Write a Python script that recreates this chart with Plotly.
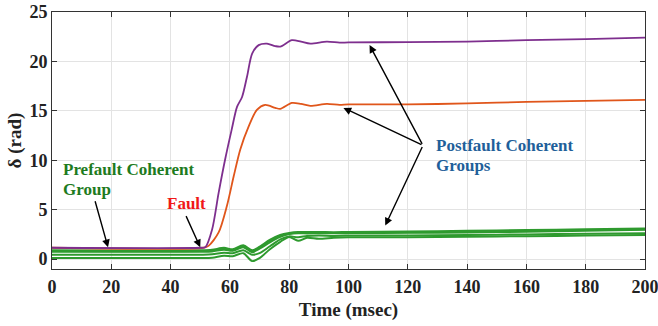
import plotly.graph_objects as go

# ---- data ----
t_purple = [0, 50, 51.7, 54, 56.2, 58.4, 60.6, 62.4, 64.1, 65.8, 67.5, 69.7, 72.5, 75.3, 77,
            80.9, 84, 87.1, 92.7, 97, 100, 120, 140, 160, 180, 200]
v_purple = [1.15, 1.15, 1.2, 3.0, 6.7, 10.1, 13.1, 15.4, 16.4, 18.5, 20.8, 21.65, 21.8, 21.55, 21.5,
            22.15, 22.0, 21.8, 22.0, 21.9, 21.92, 21.95, 22.0, 22.15, 22.25, 22.4]

t_orange = [0, 51, 52.8, 56.2, 59, 61.3, 63.5, 66.3, 69.1, 71.9, 75.3, 77, 80.9, 84, 87.1,
            92.7, 97, 100, 120, 140, 160, 180, 200]
v_orange = [1.15, 1.15, 1.34, 2.7, 5.4, 8.4, 11.1, 13.4, 15.1, 15.6, 15.3, 15.2, 15.8, 15.7, 15.5,
            15.7, 15.6, 15.65, 15.65, 15.75, 15.9, 16.0, 16.1]

t_green = [0, 50, 54, 58, 61, 64.5, 67.5, 70, 73.5, 77, 80, 83, 86, 90, 95, 100, 120, 140, 160, 180, 200]
v_green1 = [0.85, 0.85, 0.9, 1.1, 0.95, 1.35, 0.85, 1.2, 1.9, 2.4, 2.6, 2.7, 2.7, 2.7, 2.68, 2.7,
            2.75, 2.82, 2.9, 2.98, 3.05]
v_green2 = [0.75, 0.75, 0.78, 0.95, 0.85, 1.2, 0.7, 1.05, 1.7, 2.25, 2.55, 2.62, 2.6, 2.62, 2.62, 2.63,
            2.66, 2.7, 2.78, 2.88, 2.98]
v_green3 = [0.45, 0.45, 0.48, 0.65, 0.6, 0.9, 0.45, 0.6, 1.3, 2.0, 2.3, 2.2, 2.35, 2.4, 2.35, 2.38,
            2.4, 2.45, 2.5, 2.56, 2.62]
v_green4 = [0.12, 0.12, 0.15, 0.35, 0.3, 0.6, -0.2, 0.1, 1.0, 1.75, 2.25, 1.85, 2.15, 2.05, 2.15, 2.2,
            2.22, 2.27, 2.32, 2.38, 2.45]

x_ticks = [0, 20, 40, 60, 80, 100, 120, 140, 160, 180, 200]
y_ticks = [0, 5, 10, 15, 20, 25]

PURPLE = "#7E2F8E"
ORANGE = "#E0561B"
GREEN = "#2E9A2E"
FONT = "Liberation Serif"

fig = go.Figure()
for vals, w in [(v_green4, 2.0), (v_green3, 2.0), (v_green2, 2.0), (v_green1, 2.8)]:
    fig.add_trace(go.Scatter(x=t_green, y=vals, mode="lines",
                             line=dict(color=GREEN, width=w, shape="spline", smoothing=0.8)))
fig.add_trace(go.Scatter(x=t_orange, y=v_orange, mode="lines",
                         line=dict(color=ORANGE, width=1.8, shape="spline", smoothing=0.8)))
fig.add_trace(go.Scatter(x=t_purple, y=v_purple, mode="lines",
                         line=dict(color=PURPLE, width=1.8, shape="spline", smoothing=0.8)))

arrows = [
    # (head x, head y, tail x, tail y)
    (18.9, 1.2, 14.4, 6.0),
    (50.0, 1.2, 45.0, 4.5),
    (107.1, 21.65, 125.1, 11.5),
    (98.3, 15.3, 125.1, 11.5),
    (112.4, 3.4, 125.1, 11.5),
]
for hx, hy, tx, ty in arrows:
    fig.add_annotation(x=hx, y=hy, ax=tx, ay=ty, xref="x", yref="y", axref="x", ayref="y",
                       text="", showarrow=True, arrowhead=2, arrowsize=1.1, arrowwidth=1.4,
                       arrowcolor="black")

labels = [
    ("Prefault Coherent", 3.1, 9.06, "#1E7B1E", "left"),
    ("Group", 3.1, 7.05, "#1E7B1E", "left"),
    ("Fault", 45.3, 5.64, "#F01818", "center"),
    ("Postfault Coherent", 129.0, 11.45, "#1F5F9A", "left"),
    ("Groups", 129.0, 9.5, "#1F5F9A", "left"),
]
for txt, x, y, col, xa in labels:
    fig.add_annotation(x=x, y=y, xref="x", yref="y", xanchor=xa, yanchor="middle",
                       text=txt, showarrow=False,
                       font=dict(family=FONT, size=17, color=col, weight="bold"))

axis_common = dict(showgrid=True, gridcolor="#E3E3E3", gridwidth=1, showline=True,
                   linecolor="#333333", linewidth=1, mirror="ticks", ticks="inside",
                   ticklen=5, tickcolor="#333333", zeroline=False, automargin=False,
                   ticklabeloverflow="allow",
                   tickfont=dict(family=FONT, size=18, color="#222222", weight="bold"))

fig.update_xaxes(range=[0, 200], tickvals=x_ticks, ticktext=[str(v) for v in x_ticks],
                 title=dict(text="Time (msec)", standoff=7,
                            font=dict(family=FONT, size=19, color="#222222", weight="bold")),
                 ticklabelstandoff=1, **axis_common)
fig.update_yaxes(range=[-1, 25], tickvals=y_ticks, ticktext=[str(v) for v in y_ticks],
                 title=dict(text="δ (rad)", standoff=2,
                            font=dict(family=FONT, size=19, color="#222222", weight="bold")),
                 ticklabelstandoff=0, **axis_common)

fig.update_layout(width=658, height=326, margin=dict(l=52, r=13, t=12, b=57),
                  plot_bgcolor="white", paper_bgcolor="white", showlegend=False)

fig.write_html("out.html")
